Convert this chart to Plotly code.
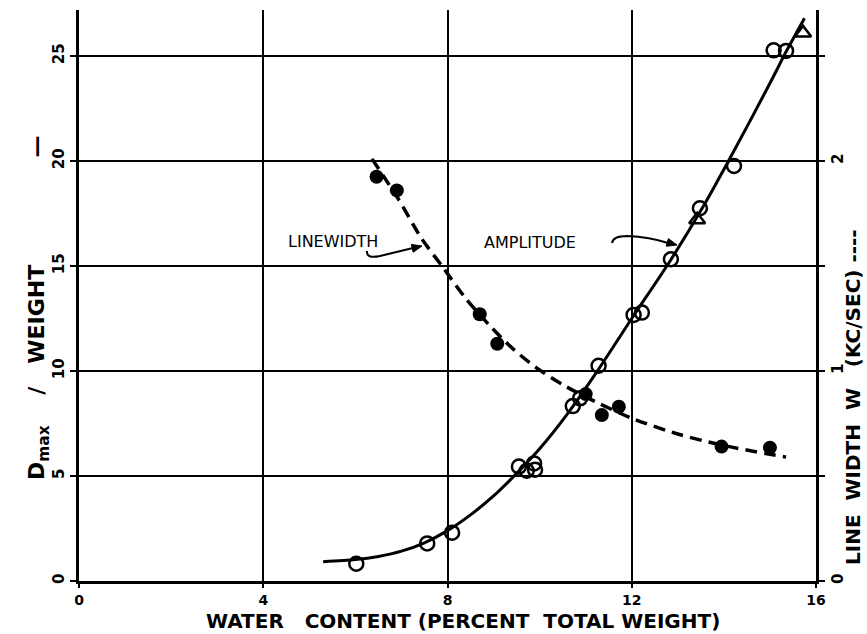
import plotly.graph_objects as go

# ---- data ----
x_ticks = [0, 4, 8, 12, 16]
x_tick_text = ["0", "4", "8", "12", "16"]
y_ticks = [0, 5, 10, 15, 20, 25]
y_tick_text = ["0", "5", "10", "15", "20", "25"]
y2_ticks = [0, 1, 2]
y2_tick_text = ["0", "1", "2"]

# amplitude (Dmax / weight), open circles
amp_x = [6.02, 7.56, 8.10, 9.55, 9.72, 9.90, 9.88, 10.72, 10.88, 11.28, 12.04, 12.22, 12.85, 13.48, 14.22, 15.08, 15.35]
amp_y = [0.82, 1.79, 2.30, 5.45, 5.25, 5.30, 5.60, 8.33, 8.70, 10.25, 12.67, 12.78, 15.32, 17.75, 19.76, 25.27, 25.24]
# amplitude, open triangles
tri_x = [13.42, 15.72]
tri_y = [17.2, 26.1]
# amplitude smooth curve (hand drawn)
amp_fit_x = [5.3, 6.0, 6.5, 7.0, 7.5, 8.0, 8.5, 9.0, 9.4, 10.0, 10.6, 11.3, 12.0, 12.85, 13.57, 14.2, 15.0, 15.35, 15.75]
amp_fit_y = [0.92, 1.02, 1.17, 1.42, 1.82, 2.4, 3.15, 4.05, 4.9, 6.3, 7.95, 10.15, 12.5, 15.3, 17.9, 20.4, 23.7, 25.2, 26.8]

# line width W (kc/sec), filled circles
lw_x = [6.46, 6.90, 8.70, 9.08, 11.00, 11.35, 11.72, 13.95, 15.00]
lw_w = [1.925, 1.86, 1.27, 1.13, 0.89, 0.79, 0.83, 0.64, 0.635]
# line width dashed curve (hand drawn)
lw_fit_x = [6.36, 6.93, 7.44, 7.88, 8.38, 8.9, 9.4, 9.9, 10.5, 11.2, 12.0, 13.0, 14.0, 15.35]
lw_fit_w = [2.01, 1.82, 1.63, 1.50, 1.35, 1.22, 1.11, 1.02, 0.935, 0.855, 0.775, 0.70, 0.645, 0.59]

FONT = "DejaVu Sans"
BLACK = "black"

# plot-area geometry (pixels) used only to place decorations
L, R, T, B = 79, 51, 10, 53
W_PX, H_PX = 867, 634
X_MAX = 16.0
Y_MAX = 27.19
sx = (W_PX - L - R) / X_MAX
sy = (H_PX - T - B) / Y_MAX


def P(px, py):
    return (px - L) / sx, (H_PX - B - py) / sy


def head(tip, frm, length=10, half=4):
    dx, dy = tip[0] - frm[0], tip[1] - frm[1]
    n = (dx * dx + dy * dy) ** 0.5
    ux, uy = dx / n, dy / n
    bx, by = tip[0] - ux * length, tip[1] - uy * length
    px_, py_ = -uy, ux
    pts = [tip, (bx + px_ * half, by + py_ * half), (bx - px_ * half, by - py_ * half)]
    d = [P(*p) for p in pts]
    return "M {:.4f},{:.4f} L {:.4f},{:.4f} L {:.4f},{:.4f} Z".format(*d[0], *d[1], *d[2])


def path(cmds):
    out = []
    for c, pts in cmds:
        out.append(c + " " + " ".join("{:.4f},{:.4f}".format(*P(*p)) for p in pts))
    return " ".join(out)


fig = go.Figure()

fig.add_trace(go.Scatter(x=amp_fit_x, y=amp_fit_y, mode="lines",
                         line=dict(color=BLACK, width=3, shape="spline", smoothing=0.8),
                         showlegend=False, hoverinfo="skip"))
fig.add_trace(go.Scatter(x=lw_fit_x, y=lw_fit_w, yaxis="y2", mode="lines",
                         line=dict(color=BLACK, width=3.5, dash="12px,7px", shape="spline", smoothing=0.8),
                         showlegend=False, hoverinfo="skip"))
fig.add_trace(go.Scatter(x=amp_x, y=amp_y, mode="markers",
                         marker=dict(symbol="circle-open", size=14, color=BLACK, line=dict(width=2.5)),
                         showlegend=False))
fig.add_trace(go.Scatter(x=tri_x, y=tri_y, mode="markers",
                         marker=dict(symbol="triangle-up-open", size=14, color=BLACK, line=dict(width=2.5)),
                         showlegend=False))
fig.add_trace(go.Scatter(x=lw_x, y=lw_w, yaxis="y2", mode="markers",
                         marker=dict(symbol="circle", size=14, color=BLACK),
                         showlegend=False))

tickfont = dict(family=FONT, size=15, color=BLACK, weight="bold")

fig.update_layout(
    width=W_PX, height=H_PX,
    margin=dict(l=L, r=R, t=T, b=B),
    paper_bgcolor="white", plot_bgcolor="white",
    font=dict(family=FONT, color=BLACK),
    xaxis=dict(range=[0, X_MAX], tickvals=x_ticks, ticktext=x_tick_text,
               showgrid=True, gridcolor=BLACK, gridwidth=2,
               showline=True, linecolor=BLACK, linewidth=3,
               ticks="outside", ticklen=4, tickwidth=2, tickcolor=BLACK,
               zeroline=False, tickfont=dict(family=FONT, size=14, color=BLACK, weight="bold")),
    yaxis=dict(range=[0, Y_MAX], tickvals=y_ticks, ticktext=y_tick_text,
               showgrid=True, gridcolor=BLACK, gridwidth=2,
               showline=True, linecolor=BLACK, linewidth=3,
               ticks="outside", ticklen=6, tickwidth=2, tickcolor=BLACK,
               tickangle=-90, zeroline=False, tickfont=tickfont),
    yaxis2=dict(range=[0, Y_MAX / 10], tickvals=y2_ticks, ticktext=y2_tick_text,
                overlaying="y", side="right", showgrid=False,
                showline=True, linecolor=BLACK, linewidth=3,
                ticks="outside", ticklen=6, tickwidth=2, tickcolor=BLACK,
                minor=dict(tick0=0, dtick=0.5, ticks="outside", ticklen=6, tickwidth=2,
                           tickcolor=BLACK, showgrid=False),
                tickangle=-90, zeroline=False, tickfont=tickfont),
)


def paper(px, py):
    return (px - L) / (W_PX - L - R), (H_PX - B - py) / (H_PX - T - B)


xt = paper(463, 621)
yt = paper(38, 308)
rt = paper(853, 397)
lw_lab = P(333, 241)
amp_lab = P(530, 242)

annotations = [
    dict(text="WATER&nbsp;&nbsp;&nbsp;CONTENT&nbsp;(PERCENT&nbsp;&nbsp;TOTAL&nbsp;WEIGHT)", xref="paper", yref="paper",
         x=xt[0], y=xt[1], showarrow=False, font=dict(family=FONT, size=20, color=BLACK, weight="bold"),
         xanchor="center", yanchor="middle"),
    dict(text="D<sub>max</sub>&nbsp;&nbsp;&nbsp;&nbsp;/&nbsp;&nbsp;&nbsp;WEIGHT" + "&nbsp;" * 14 + "—",
         xref="paper", yref="paper", x=yt[0], y=yt[1], textangle=-90, showarrow=False,
         font=dict(family=FONT, size=22, color=BLACK, weight="bold"), xanchor="center", yanchor="middle"),
    dict(text="LINE&nbsp;&nbsp;WIDTH&nbsp;&nbsp;W&nbsp;&nbsp;&nbsp;(KC/SEC)&nbsp;----",
         xref="paper", yref="paper", x=rt[0], y=rt[1], textangle=-90, showarrow=False,
         font=dict(family=FONT, size=20, color=BLACK, weight="bold"), xanchor="center", yanchor="middle"),
    dict(text="LINEWIDTH", x=lw_lab[0], y=lw_lab[1], xref="x", yref="y", showarrow=False,
         font=dict(family=FONT, size=16, color=BLACK)),
    dict(text="AMPLITUDE", x=amp_lab[0], y=amp_lab[1], xref="x", yref="y", showarrow=False,
         font=dict(family=FONT, size=16, color=BLACK)),
]
fig.update_layout(annotations=annotations)

# curved pointer arrows
fig.add_shape(type="path", xref="x", yref="y",
              path=path([("M", [(367, 251)]), ("Q", [(366, 259), (380, 256)]), ("L", [(413, 248)])]),
              line=dict(color=BLACK, width=2))
fig.add_shape(type="path", xref="x", yref="y", path=head((422, 246), (380, 256)),
              fillcolor=BLACK, line=dict(color=BLACK, width=1))
fig.add_shape(type="path", xref="x", yref="y",
              path=path([("M", [(612, 243)]), ("Q", [(613, 236), (627, 236)]), ("Q", [(650, 237), (668, 243)])]),
              line=dict(color=BLACK, width=2))
fig.add_shape(type="path", xref="x", yref="y", path=head((677, 245), (662, 241)),
              fillcolor=BLACK, line=dict(color=BLACK, width=1))

fig.write_html("out.html", config={"displayModeBar": False})

with open("out.html", "r", encoding="utf-8") as f:
    html = f.read()
html = html.replace("<body>", '<body style="margin:0;padding:0;overflow:hidden">', 1)
with open("out.html", "w", encoding="utf-8") as f:
    f.write(html)
